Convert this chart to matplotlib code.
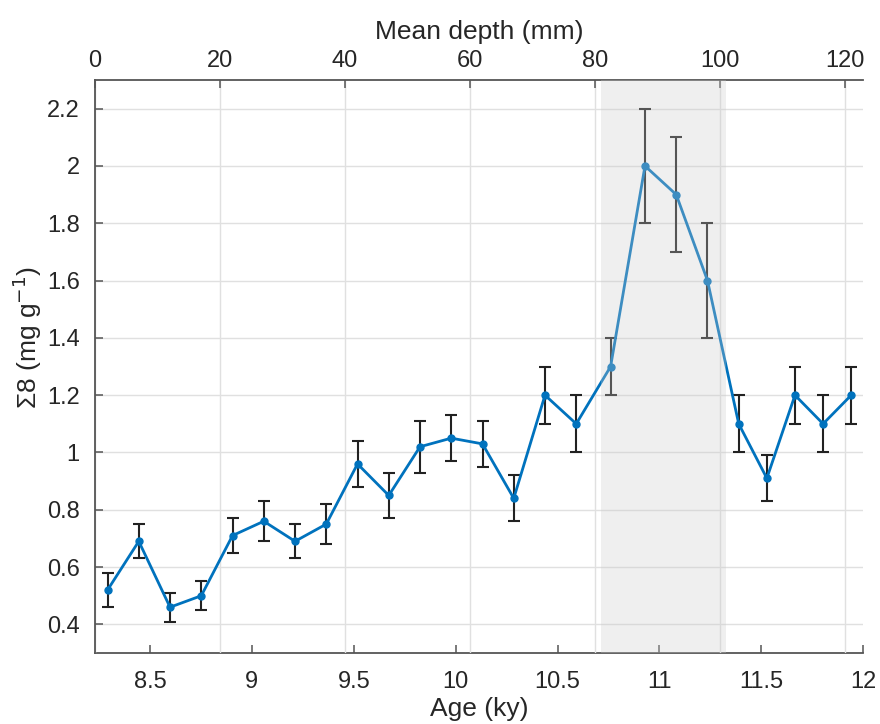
import numpy as np
import matplotlib
matplotlib.use('Agg')
import matplotlib.pyplot as plt
from matplotlib.ticker import FuncFormatter

plt.rcParams['font.family'] = ['Liberation Sans', 'DejaVu Sans']

# 数据：平均深度 (mm)、Σ8 浓度及误差
depth = [2, 7, 12, 17, 22, 27, 32, 37, 42, 47, 52, 57, 62, 67, 72, 77,
         82.5, 88, 93, 98, 103, 107.5, 112, 116.5, 121]
sigma8 = [0.52, 0.69, 0.46, 0.50, 0.71, 0.76, 0.69, 0.75, 0.96, 0.85, 1.02, 1.05, 1.03,
          0.84, 1.20, 1.10, 1.30, 2.00, 1.90, 1.60, 1.10, 0.91, 1.20, 1.10, 1.20]
err = [0.06, 0.06, 0.05, 0.05, 0.06, 0.07, 0.06, 0.07, 0.08, 0.08, 0.09, 0.08, 0.08,
       0.08, 0.10, 0.10, 0.10, 0.20, 0.20, 0.20, 0.10, 0.08, 0.10, 0.10, 0.10]

# 阴影区间 (mm)
shade = [81, 101]

# 深度 -> 年龄 (ky) 的线性换算
age0 = 8.23
ky_per_mm = 0.03067

depth_ticks = [0, 20, 40, 60, 80, 100, 120]
age_ticks = [8.5, 9, 9.5, 10, 10.5, 11, 11.5, 12]
y_ticks = [0.4, 0.6, 0.8, 1.0, 1.2, 1.4, 1.6, 1.8, 2.0, 2.2]

axis_col = '#555555'
text_col = '#262626'

fig = plt.figure(figsize=(8.8, 7.24), dpi=100)
ax = fig.add_axes([0.108, 0.098, 0.873, 0.7915])

ax.errorbar(depth, sigma8, yerr=err, fmt='none', ecolor='#222222',
            elinewidth=1.5, capsize=4, capthick=1.5, zorder=2)
ax.plot(depth, sigma8, '-o', color='#0072BD', lw=2.0, ms=5, zorder=3)
ax.axvspan(shade[0], shade[1], color='0.8', alpha=0.3, lw=0, zorder=4)

ax.set_xlim(0, 122.93)
ax.set_ylim(0.3, 2.3)

# 顶部：深度
ax.xaxis.tick_top()
ax.xaxis.set_label_position('top')
ax.set_xticks(depth_ticks)
ax.set_xlabel('Mean depth (mm)', fontsize=19, color=text_col, labelpad=8)
ax.set_yticks(y_ticks)
ax.yaxis.set_major_formatter(FuncFormatter(lambda v, p: '%g' % v))
ax.set_ylabel('Σ8 (mg g$^{-1}$)', fontsize=19, color=text_col)
ax.yaxis.set_label_coords(-0.066, 0.55)

ax.set_axisbelow(True)
ax.grid(True, color='#e0e0e0', lw=1.0)

ax.tick_params(axis='x', direction='in', length=6, width=1.1, colors=axis_col,
               labelcolor=text_col, labelsize=17, pad=6)
ax.tick_params(axis='y', direction='in', length=6, width=1.1, colors=axis_col,
               labelcolor=text_col, labelsize=17, pad=11)

for s in ['top', 'left']:
    ax.spines[s].set_color(axis_col)
    ax.spines[s].set_linewidth(1.3)
ax.spines['right'].set_visible(False)
ax.spines['bottom'].set_visible(False)

# 底部：年龄
sec = ax.secondary_xaxis('bottom',
                         functions=(lambda d: age0 + ky_per_mm * d,
                                    lambda a: (a - age0) / ky_per_mm))
sec.set_xticks(age_ticks)
sec.xaxis.set_major_formatter(FuncFormatter(lambda v, p: '%g' % v))
sec.set_xlabel('Age (ky)', fontsize=19, color=text_col, labelpad=3)
sec.tick_params(direction='in', length=6, width=1.1, colors=axis_col,
                labelcolor=text_col, labelsize=17, pad=13)
sec.spines['bottom'].set_color(axis_col)
sec.spines['bottom'].set_linewidth(1.3)

fig.savefig('out.png', dpi=100)
